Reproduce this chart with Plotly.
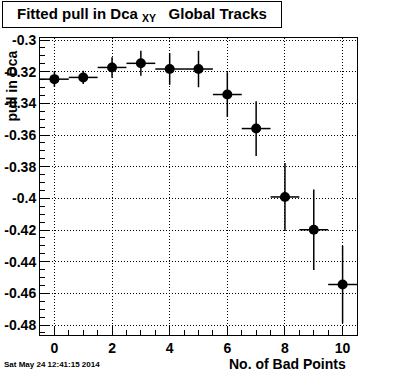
import plotly.graph_objects as go

# Data
bad_points = [0, 1, 2, 3, 4, 5, 6, 7, 8, 9, 10]
pull_mean = [-0.3247, -0.3236, -0.3173, -0.3147, -0.3183, -0.3183, -0.3344, -0.3559, -0.3991, -0.4198, -0.4544]
pull_err = [0.0049, 0.0042, 0.0065, 0.0079, 0.0100, 0.0115, 0.0141, 0.0173, 0.0215, 0.0254, 0.0245]
bin_half_width = [0.5] * 11

y_tick_vals = [-0.30, -0.32, -0.34, -0.36, -0.38, -0.40, -0.42, -0.44, -0.46, -0.48]
y_tick_labels = ["-0.3", "-0.32", "-0.34", "-0.36", "-0.38", "-0.4", "-0.42", "-0.44", "-0.46", "-0.48"]
x_tick_vals = [0, 2, 4, 6, 8, 10]
x_tick_labels = ["0", "2", "4", "6", "8", "10"]

title_text = "Fitted pull in Dca\u00a0<sub>XY</sub>\u00a0\u00a0\u00a0Global Tracks"
x_title = "No. of Bad Points"
y_title = "pull in Dca"
date_text = "Sat May 24 12:41:15 2014"

W, H = 396, 372
L, R, T, B = 40, 39, 38, 37
pw, ph = W - L - R, H - T - B

def px_x(p):
    return (p - L) / pw

def px_y(p):
    return (H - B - p) / ph

FONT = "Liberation Sans, Arial, Helvetica, sans-serif"

fig = go.Figure()
fig.add_trace(go.Scatter(
    x=bad_points, y=pull_mean,
    mode="markers",
    marker=dict(symbol="circle", size=10, color="black"),
    error_y=dict(type="data", array=pull_err, visible=True, color="black", thickness=1.5, width=0),
    error_x=dict(type="data", array=bin_half_width, visible=True, color="black", thickness=1.5, width=0),
    showlegend=False,
    hoverinfo="skip",
))

axis_common = dict(
    showline=True, mirror=True, linecolor="black", linewidth=1,
    ticks="inside", tickcolor="black", tickwidth=1,
    showgrid=True, gridcolor="black", griddash="1px,2px", gridwidth=1,
    zeroline=False, automargin=False,
    tickfont=dict(family=FONT, size=14, color="black", weight="bold"),
)

fig.update_layout(
    width=W, height=H, autosize=False,
    margin=dict(l=L, r=R, t=T, b=B),
    paper_bgcolor="white", plot_bgcolor="white",
    xaxis=dict(range=[-0.5, 10.5], tickvals=x_tick_vals, ticktext=x_tick_labels, ticklen=9,
               minor=dict(ticks="inside", dtick=0.5, tick0=0, ticklen=5, tickcolor="black", showgrid=False),
               **axis_common),
    yaxis=dict(range=[-0.4863, -0.2987], tickvals=y_tick_vals, ticktext=y_tick_labels, ticklen=9,
               minor=dict(ticks="inside", dtick=0.005, tick0=-0.3, ticklen=5, tickcolor="black", showgrid=False),
               **axis_common),
)

fig.add_annotation(
    xref="paper", yref="paper", x=px_x(2), y=px_y(1), xanchor="left", yanchor="top",
    text=title_text, showarrow=False, width=276, height=23, borderpad=1,
    bordercolor="black", borderwidth=1, bgcolor="white", align="center",
    font=dict(family=FONT, size=15, color="black", weight="bold"),
)
fig.add_annotation(
    xref="paper", yref="paper", x=px_x(348), y=px_y(364), xanchor="right", yanchor="middle",
    text=x_title, showarrow=False,
    font=dict(family=FONT, size=14, color="black", weight="bold"),
)
fig.add_annotation(
    xref="paper", yref="paper", x=px_x(11), y=px_y(49), xanchor="center", yanchor="top",
    text=y_title, showarrow=False, textangle=-90,
    font=dict(family=FONT, size=14, color="black", weight="bold"),
)
fig.add_annotation(
    xref="paper", yref="paper", x=px_x(2), y=px_y(364), xanchor="left", yanchor="middle",
    text=date_text, showarrow=False,
    font=dict(family=FONT, size=8, color="black", weight="bold"),
)

fig.write_html("out.html", config={"displayModeBar": False},
               post_script="document.body.style.margin='0';document.body.style.overflow='hidden';")
